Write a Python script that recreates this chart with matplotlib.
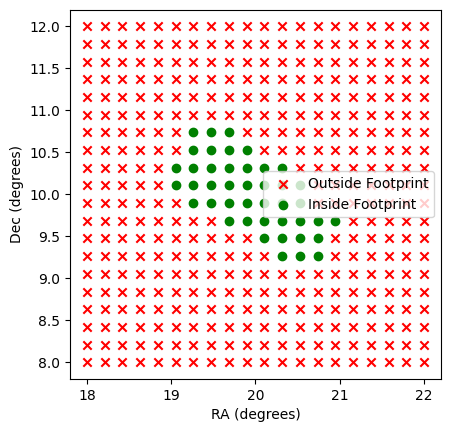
import numpy as np
import matplotlib
matplotlib.use("Agg")
import matplotlib.pyplot as plt

# 20 x 20 grid of sky positions
ra_values = np.linspace(18, 22, 20)
dec_values = np.linspace(8, 12, 20)

# points inside the footprint: dec row index -> (first, last) ra column index
inside_rows = {
    13: (6, 8),
    12: (6, 9),
    11: (5, 11),
    10: (5, 12),
    9: (6, 12),
    8: (8, 14),
    7: (10, 13),
    6: (11, 13),
}

ra_grid, dec_grid = np.meshgrid(ra_values, dec_values)
inside = np.zeros(ra_grid.shape, dtype=bool)
for row, (c0, c1) in inside_rows.items():
    inside[row, c0:c1 + 1] = True

fig = plt.figure(figsize=(4.49, 4.32), dpi=100)
ax = fig.add_axes([0.1559, 0.1227, 0.826, 0.855])
ax.scatter(ra_grid[~inside], dec_grid[~inside], c="red", marker="x",
           label="Outside Footprint")
ax.scatter(ra_grid[inside], dec_grid[inside], c="green", marker="o",
           label="Inside Footprint")
ax.set_xlabel("RA (degrees)")
ax.set_ylabel("Dec (degrees)")
ax.legend(loc="center right")
fig.savefig("out.png")
